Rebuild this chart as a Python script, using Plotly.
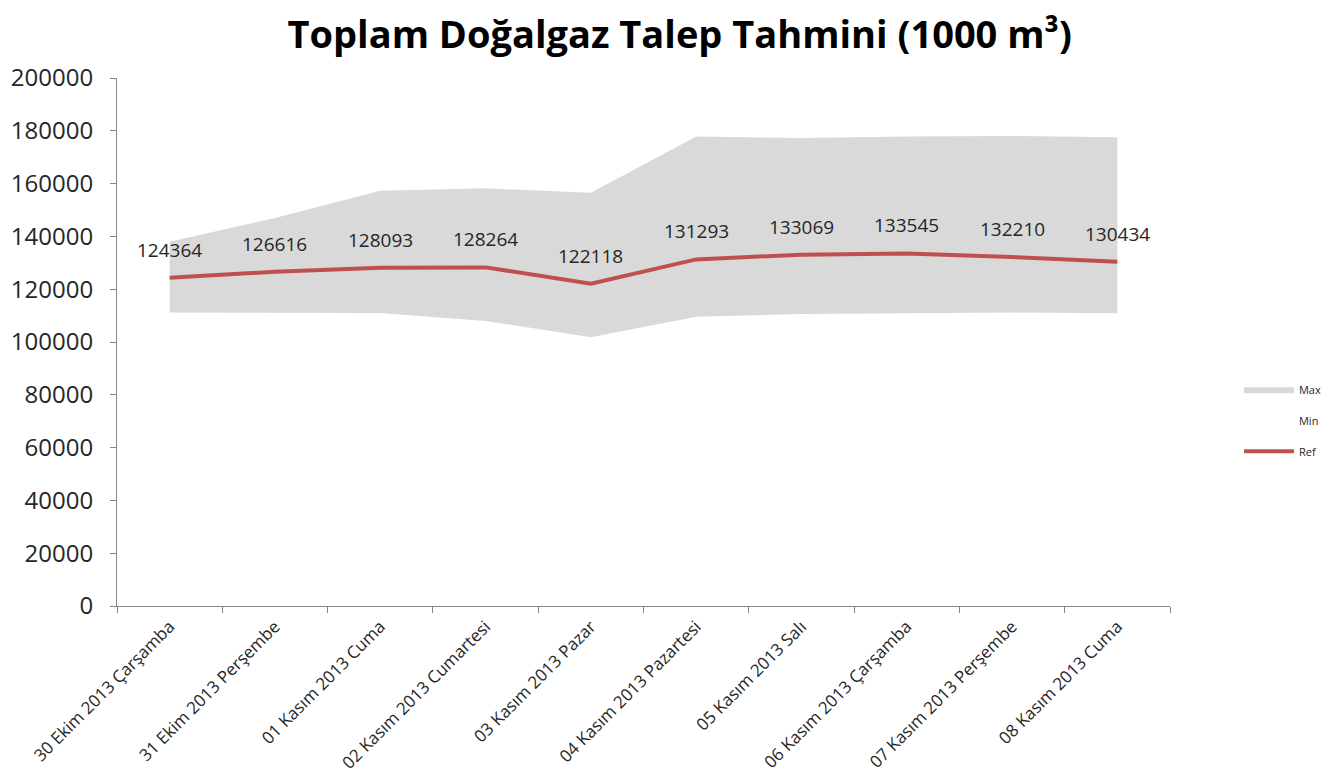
import plotly.graph_objects as go

categories = [
    "30 Ekim 2013 Çarşamba", "31 Ekim 2013 Perşembe", "01 Kasım 2013 Cuma",
    "02 Kasım 2013 Cumartesi", "03 Kasım 2013 Pazar", "04 Kasım 2013 Pazartesi",
    "05 Kasım 2013 Salı", "06 Kasım 2013 Çarşamba", "07 Kasım 2013 Perşembe",
    "08 Kasım 2013 Cuma",
]
ref_values = [124364, 126616, 128093, 128264, 122118, 131293, 133069, 133545, 132210, 130434]
max_values = [138000, 147000, 157300, 158200, 156500, 177800, 177300, 177800, 178000, 177600]
min_values = [111200, 111200, 111000, 108000, 101800, 109600, 110600, 110900, 111200, 110900]
y_ticks = [0, 20000, 40000, 60000, 80000, 100000, 120000, 140000, 160000, 180000, 200000]

font_family = "Open Sans"
text_color = "#262626"

fig = go.Figure()
fig.add_trace(go.Scatter(
    x=categories, y=min_values, name="Min", mode="lines",
    line=dict(width=0, color="#FFFFFF"), fill="tozeroy", fillcolor="#FFFFFF",
    legendgroup="min", legendrank=2, hoverinfo="skip",
))
fig.add_trace(go.Scatter(
    x=categories, y=max_values, name="Max", mode="lines",
    line=dict(width=0, color="#D9D9D9"), fill="tonexty", fillcolor="#D9D9D9",
    legendgroup="max", legendrank=1, hoverinfo="skip",
))
fig.add_trace(go.Scatter(
    x=categories, y=ref_values, name="Ref", mode="lines",
    line=dict(width=4, color="#C0504D"),
    legendgroup="ref", legendrank=3,
))

for c, v in zip(categories, ref_values):
    fig.add_annotation(x=c, y=v, text=str(v), showarrow=False, yshift=28,
                       font=dict(family=font_family, size=19, color=text_color))

fig.update_layout(
    width=1338, height=777,
    paper_bgcolor="white", plot_bgcolor="white",
    margin=dict(l=109, r=176, t=70, b=179, autoexpand=False),
    title=dict(text="<b>Toplam Doğalgaz Talep Tahmini (1000 m³)</b>",
               x=0.502, xanchor="center", y=0.966, yanchor="middle",
               font=dict(family=font_family, size=38, color="#000000")),
    font=dict(family=font_family, color=text_color),
    legend=dict(x=1.0655, xanchor="left", y=0.438, yanchor="top",
                font=dict(size=11, color=text_color), tracegroupgap=12,
                itemwidth=50, bgcolor="rgba(0,0,0,0)"),
    showlegend=True,
)
fig.update_xaxes(
    type="category", range=[-0.5, 9.5], tickson="boundaries",
    ticks="outside", ticklen=6, tickcolor="#868686",
    showline=True, linecolor="#868686", linewidth=1,
    showgrid=False, tickangle=-45, ticklabelstandoff=3, automargin=False,
    tickfont=dict(family=font_family, size=17, color=text_color),
)
fig.update_yaxes(
    range=[0, 200000], tickvals=y_ticks, ticktext=[str(t) for t in y_ticks],
    ticks="outside", ticklen=6, tickcolor="#868686",
    showline=True, linecolor="#868686", linewidth=1,
    showgrid=False, zeroline=False, ticklabelstandoff=12, automargin=False,
    tickfont=dict(family=font_family, size=24, color=text_color),
)

fig.write_html("out.html")
